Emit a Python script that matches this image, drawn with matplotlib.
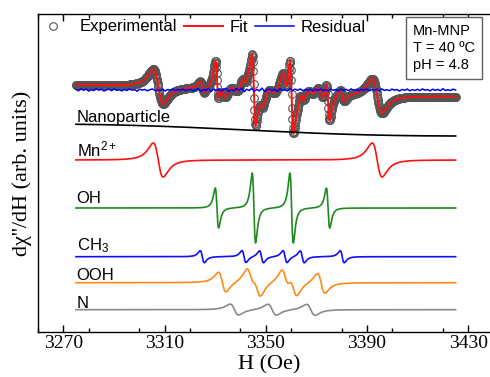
import matplotlib
matplotlib.use('Agg')
import matplotlib.pyplot as plt
from matplotlib.ticker import MultipleLocator
import numpy as np

plt.rcParams['font.family'] = 'Liberation Sans'
plt.rcParams['mathtext.fontset'] = 'custom'
plt.rcParams['mathtext.rm'] = 'Liberation Sans'
plt.rcParams['mathtext.default'] = 'rm'

# field range of the spectrum (Oe)
h_start, h_end = 3275, 3425

# fitted components: line centres (Oe), widths (Oe), amplitudes and vertical offsets
np_center, np_width, np_amp = [3342.0], [150.0], [6.0]
mn_center = [3307.5, 3394.0]
mn_width = [3.4, 3.4]
mn_amp = [17, 17]
oh_center = [3330.7, 3345.3, 3360.2, 3374.6]
oh_width = [1.15, 1.15, 1.15, 1.15]
oh_amp = [20, 35, 35, 20]
ch3_center = [3324.9, 3341.4, 3348.3, 3357.6, 3364.4, 3380.2]
ch3_width = [1.4] * 6
ch3_amp = [6] * 6
ooh_center = [3332.8, 3343.9, 3346.6, 3357.7, 3360.9, 3371.9]
ooh_width = [2.6] * 6
ooh_amp = [10] * 6
n_center = [3337.6, 3352.5, 3367.8]
n_width = [2.9] * 3
n_amp = [5.5] * 3

names = ['Nanoparticle', 'Mn$^{2+}$', 'OH', 'CH$_3$', 'OOH', 'N']
colors = ['black', '#ff1010', '#1e8a1e', '#1010ff', '#ff8a1a', '#8a8a8a']
offsets = [202, 172, 124, 75.3, 49.3, 22.3]
label_y = [210, 175.5, 128.5, 81.5, 51.5, 23.8]

exp_offset = 241.5
res_offset = 242

# residual (experimental - fit)
residual = [0.5, -0.8, 1.2, -0.3, 0.9, -1.1, 0.4, -0.6, 1.3, -0.2, 0.7, -1.0, 0.2, 0.8, -0.7, 1.1, -0.4, 0.3, -0.9, 0.6,
            -0.5, 1.0, -0.2, 0.4, -1.2, 0.9, -0.1, 0.6, -0.8, 0.3, 1.1, -0.6, 0.2, -0.4, 0.8, -1.0, 0.5, -0.3, 1.2, -0.7,
            0.4, -0.2, 0.9, -0.5, 0.1, 0.7, -0.9, 0.3, 1.4, -1.3, 0.6, -0.4, 1.6, -1.5, 0.8, -0.2, 1.0, -1.1, 0.5, 1.8,
            -1.6, 0.4, -0.8, 1.3, -0.3, 2.0, -1.8, 0.7, -0.5, 1.5, -1.2, 0.6, -0.9, 1.9, -1.4, 0.3, 1.1, -0.7, 0.8, -1.6,
            1.2, -0.4, 0.5, -1.0, 1.4, -0.6, 0.9, -0.3, 1.1, -0.8, 0.4, -0.2, 0.7, -0.9, 0.6, -0.4, 1.0, -0.5, 0.3, -0.7,
            0.8, -0.3, 0.5, -1.0, 0.9, -0.2, 0.6, -0.6, 1.1, -0.4, 0.2, -0.8, 0.7, -0.3, 1.0, -0.9, 0.4, -0.1, 0.8, -0.6,
            1.2, -0.5, 0.3, -0.7, 0.9, -0.2, 0.5, -1.1, 0.6, -0.3, 1.0, -0.8, 0.4, -0.4, 0.7, -0.6, 1.1, -0.2, 0.5, -0.9,
            0.8, -0.3, 0.6, -0.7, 1.3, -0.5, 0.2, -0.6, 0.9, -0.1]


def dlor(h, centers, widths, amps):
    # first-derivative Lorentzian lines, amps = peak height
    y = np.zeros_like(h)
    for c, w, a in zip(centers, widths, amps):
        u = (h - c) / w
        y += -a * u / (1 + u ** 2) ** 2 / 0.3248
    return y


h = np.linspace(h_start, h_end, 1500)
h_exp = np.linspace(h_start, h_end, 1024)
params = [(np_center, np_width, np_amp), (mn_center, mn_width, mn_amp),
          (oh_center, oh_width, oh_amp), (ch3_center, ch3_width, ch3_amp),
          (ooh_center, ooh_width, ooh_amp), (n_center, n_width, n_amp)]

fig = plt.figure(figsize=(4.9, 3.77), dpi=100)
ax = fig.add_axes([38 / 490, 1 - 332 / 377, 460 / 490, 318 / 377])

fit = exp_offset + sum(dlor(h, *p) for p in params)
experimental = exp_offset + sum(dlor(h_exp, *p) for p in params)

exp_line, = ax.plot(h_exp, experimental, 'o', ms=5.5, mfc='none', mec='#555555', mew=0.8,
                    label='Experimental')
fit_line, = ax.plot(h, fit, color='#ff1010', lw=1.4, label='Fit')
res_line, = ax.plot(np.linspace(h_start, h_end, len(residual)), res_offset + np.array(residual),
                    color='#0000ff', lw=1.1, label='Residual')

for p, name, col, off, ly in zip(params, names, colors, offsets, label_y):
    ax.plot(h, off + dlor(h, *p), color=col, lw=1.2)
    ax.text(3275.3, ly, name, fontsize=12, va='baseline', ha='left')

# axes run past the right edge of the figure, as in the original
ax.set_xlim(3260, 3260 + 460 / 2.531)
ax.set_ylim(0, 318)
ax.xaxis.set_minor_locator(MultipleLocator(20))
ax.set_xticks([3270, 3310, 3350, 3390, 3430])
ax.set_yticks([])
ax.tick_params(axis='x', which='both', direction='in', top=True, pad=2)
ax.tick_params(axis='x', which='major', length=5, width=1)
ax.tick_params(axis='x', which='minor', length=3, width=1)
for lab in ax.get_xticklabels():
    lab.set_family('Liberation Serif')
    lab.set_fontsize(14)
for s in ax.spines.values():
    s.set_linewidth(1)

ax.set_xlabel('H (Oe)', family='Liberation Serif', fontsize=16)
ax.xaxis.set_label_coords((269.5 - 38) / 460, -0.072)
ax.set_ylabel("dχ''/dH (arb. units)", family='Liberation Serif', fontsize=16, labelpad=4)

fig.legend(handles=[exp_line, fit_line, res_line], ncol=3, frameon=False,
           prop={'size': 12},
           handlelength=2.35, handletextpad=0.4, columnspacing=0.4,
           loc='center left', bbox_to_anchor=(33.5 / 490, 1 - 27 / 377),
           borderpad=0, borderaxespad=0)

fig.text(413 / 490, 1 - 48 / 377, 'Mn-MNP\nT = 40 ºC\npH = 4.8', fontsize=10.5,
         va='center', ha='left', linespacing=1.3,
         bbox=dict(boxstyle='square,pad=0.45', fc='white', ec='#606060', lw=1))

fig.savefig('out.png', dpi=100)
plt.close()
